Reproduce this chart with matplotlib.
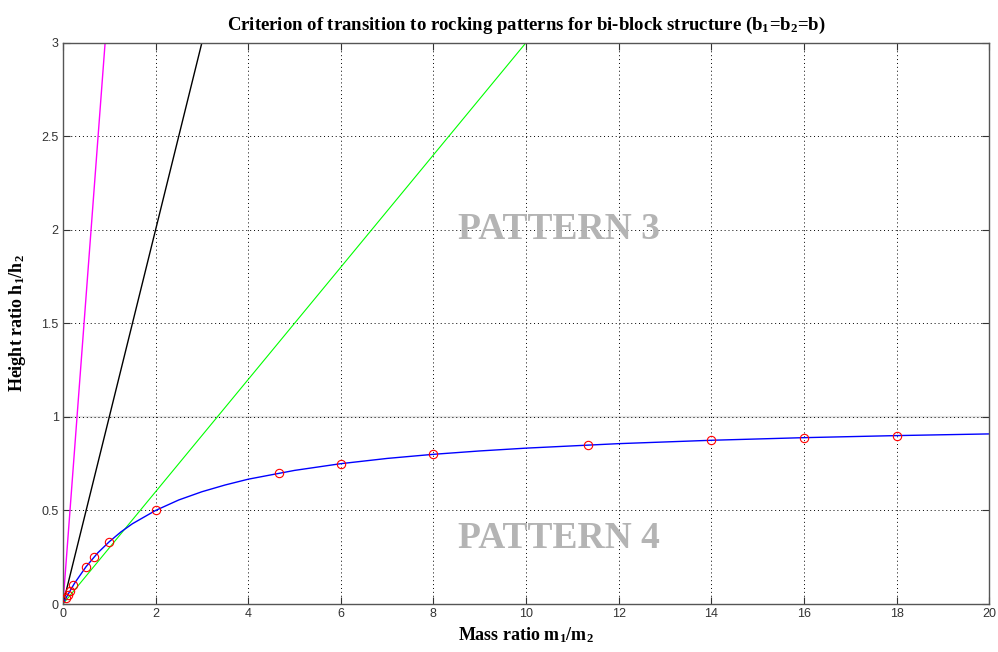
import matplotlib
matplotlib.use("Agg")
import matplotlib.pyplot as plt

plt.rcParams["mathtext.fontset"] = "custom"
plt.rcParams["mathtext.rm"] = "Liberation Serif:bold"
plt.rcParams["mathtext.it"] = "Liberation Serif:bold"
plt.rcParams["mathtext.bf"] = "Liberation Serif:bold"

# straight boundary lines (end points)
magenta_x = [0, 0.91]
magenta_y = [0, 3]
black_x = [0, 3.0]
black_y = [0, 3]
green_x = [0, 10.0]
green_y = [0, 3]

# blue criterion curve
curve_x = [0, 0.1, 0.25, 0.5, 0.75, 1, 1.25, 1.5, 2, 2.5, 3, 3.5, 4, 5, 6, 7, 8,
           9, 10, 12, 14, 16, 18, 20]
curve_y = [0, 0.048, 0.111, 0.2, 0.273, 0.333, 0.385, 0.429, 0.5, 0.556, 0.6,
           0.636, 0.667, 0.714, 0.75, 0.778, 0.8, 0.818, 0.833, 0.857, 0.875,
           0.889, 0.9, 0.909]

# red circle markers
marker_x = [0.06, 0.1, 0.15, 0.22, 0.5, 0.667, 1, 2, 4.67, 6, 8, 11.33, 14, 16, 18]
marker_y = [0.03, 0.05, 0.07, 0.1, 0.2, 0.25, 0.333, 0.5, 0.7, 0.75, 0.8, 0.85,
            0.875, 0.889, 0.9]

xticks = list(range(0, 21, 2))
yticks = [0, 0.5, 1, 1.5, 2, 2.5, 3]
ytick_labels = ["0", "0.5", "1", "1.5", "2", "2.5", "3"]

fig = plt.figure(figsize=(9.98, 6.52), dpi=100)
ax = fig.add_axes([0.0631, 0.0736, 0.928, 0.861])

ax.grid(True, linestyle=(0, (1, 3)), color="black", lw=0.7)
ax.axhline(1, color="#e6e6e6", lw=1.6, zorder=1.5)

ax.plot(magenta_x, magenta_y, color="#ff00ff", lw=1, zorder=2)
ax.plot(black_x, black_y, color="black", lw=1, zorder=2)
ax.plot(green_x, green_y, color="#00ff00", lw=0.8, zorder=2)
ax.plot(curve_x, curve_y, color="blue", lw=1, zorder=2)
ax.plot(marker_x, marker_y, "o", mfc="none", mec="red", ms=6, mew=0.8, zorder=3)

ax.text(10.7, 2.0, "PATTERN 3", family="Liberation Serif", weight="bold",
        fontsize=27, color="#b4b4b4", ha="center", va="center")
ax.text(10.7, 0.35, "PATTERN 4", family="Liberation Serif", weight="bold",
        fontsize=27, color="#b4b4b4", ha="center", va="center")

ax.set_xlim(0, 20)
ax.set_ylim(0, 3)
ax.set_xticks(xticks)
ax.set_yticks(yticks)
ax.set_yticklabels(ytick_labels)
ax.tick_params(direction="in", top=True, right=True, length=5, width=0.8,
               labelsize=9, colors="#333333", pad=3)
for lab in ax.get_xticklabels() + ax.get_yticklabels():
    lab.set_family("Liberation Sans")
for sp in ax.spines.values():
    sp.set_color("#555555")
    sp.set_linewidth(1)

ax.set_title("Criterion of transition to rocking patterns for bi-block structure "
             "(b$_1$=b$_2$=b)", family="Liberation Serif", weight="bold",
             fontsize=13.5, pad=9)
ax.set_xlabel("Mass ratio m$_1$/m$_2$", family="Liberation Serif",
              weight="bold", fontsize=13, labelpad=4)
ax.set_ylabel("Height ratio h$_1$/h$_2$", family="Liberation Serif",
              weight="bold", fontsize=13, labelpad=10)

fig.savefig("out.png", dpi=100)
